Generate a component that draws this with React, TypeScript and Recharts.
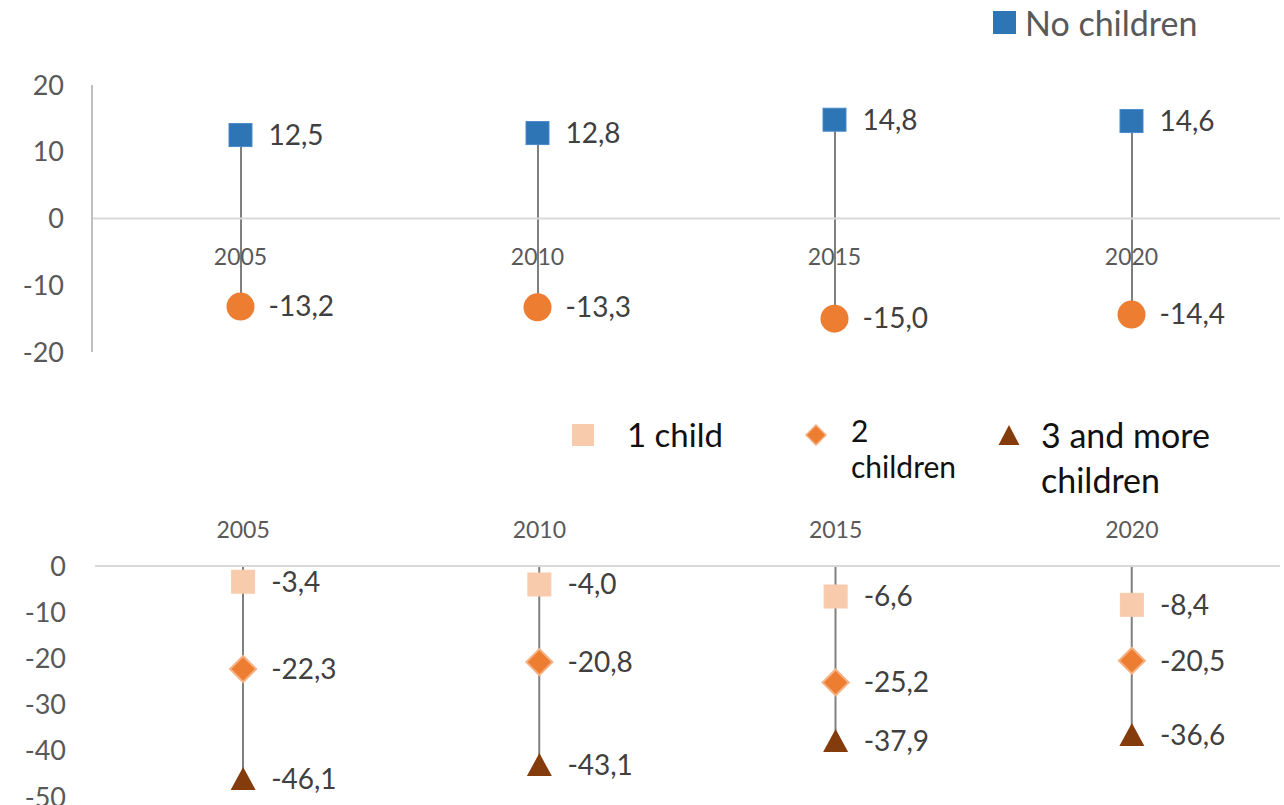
import React from 'react';
import {
  ComposedChart,
  Bar,
  Line,
  XAxis,
  YAxis,
  ReferenceLine,
  Legend,
  LabelList,
} from 'recharts';

const FONT = 'Lato, "Open Sans", sans-serif';

const years = ['2005', '2010', '2015', '2020'];
const noChildren = [12.5, 12.8, 14.8, 14.6];
const withChildren = [-13.2, -13.3, -15.0, -14.4];
const oneChild = [-3.4, -4.0, -6.6, -8.4];
const twoChildren = [-22.3, -20.8, -25.2, -20.5];
const threeOrMore = [-46.1, -43.1, -37.9, -36.6];

const topTicks = [-20, -10, 0, 10, 20];
const bottomTicks = [-50, -40, -30, -20, -10, 0];

const topData = years.map((year, i) => ({
  year,
  none: noChildren[i],
  some: withChildren[i],
  stem: [withChildren[i], noChildren[i]],
}));

const bottomData = years.map((year, i) => ({
  year,
  one: oneChild[i],
  two: twoChildren[i],
  three: threeOrMore[i],
  stem: [threeOrMore[i], 0],
}));

const BLUE = '#2E75B6';
const ORANGE = '#ED7D31';
const PEACH = '#F8CBAD';
const BROWN = '#843C0C';
const STEM = '#7F7F7F';
const TICK = '#595959';

const fmt = (v: any) => Number(v).toFixed(1).replace('.', ',');

const squareDot = (fill: string, stroke: string) => (p: any) => (
  <rect
    key={`sq-${p.index}`}
    x={p.cx - 11.5}
    y={p.cy - 11.5}
    width={23}
    height={23}
    fill={fill}
    stroke={stroke}
    strokeWidth={1}
  />
);

const circleDot = (p: any) => (
  <circle key={`ci-${p.index}`} cx={p.cx} cy={p.cy} r={14} fill={ORANGE} />
);

const diamondDot = (p: any) => (
  <polygon
    key={`di-${p.index}`}
    points={`${p.cx},${p.cy - 13} ${p.cx + 13},${p.cy} ${p.cx},${p.cy + 13} ${p.cx - 13},${p.cy}`}
    fill={ORANGE}
    stroke="#F4B183"
    strokeWidth={2}
  />
);

const triangleDot = (p: any) => (
  <polygon
    key={`tr-${p.index}`}
    points={`${p.cx},${p.cy - 12} ${p.cx + 12.5},${p.cy + 11} ${p.cx - 12.5},${p.cy + 11}`}
    fill={BROWN}
  />
);

// year labels of the upper panel sit just under the zero line
const YearTick = (p: any) => (
  <text
    x={p.x}
    y={p.y}
    dy={-89}
    textAnchor="middle"
    fill={TICK}
    fontSize={23}
    fontFamily={FONT}
  >
    {p.payload.value}
  </text>
);

// value written to the right of each marker
const ValueLabel = (p: any) => {
  const x = p.x ?? p.viewBox?.x;
  const y = p.y ?? p.viewBox?.y;
  return (
    <text
      x={x + 28}
      y={y}
      dy="0.35em"
      textAnchor="start"
      fill="#404040"
      fontSize={28}
      fontFamily={FONT}
    >
      {fmt(p.value)}
    </text>
  );
};

const legendIcons: Record<string, React.ReactNode> = {
  none: <div style={{ width: 23, height: 23, background: BLUE }} />,
  one: <div style={{ width: 22, height: 22, background: PEACH }} />,
  two: (
    <svg width={22} height={22}>
      <polygon points="11,1 21,11 11,21 1,11" fill={ORANGE} stroke="#F4B183" strokeWidth={1.5} />
    </svg>
  ),
  three: (
    <svg width={22} height={22}>
      <polygon points="11,1 21.5,21 0.5,21" fill={BROWN} />
    </svg>
  ),
};

const TopLegend = (props: any) => (
  <div style={{ display: 'flex', alignItems: 'center', height: 45, fontFamily: FONT }}>
    {(props.payload || [])
      .filter((e: any) => e.dataKey === 'none')
      .map((e: any) => (
        <div key={e.dataKey} style={{ display: 'flex', alignItems: 'center', whiteSpace: 'nowrap' }}>
          {legendIcons[e.dataKey]}
          <span style={{ marginLeft: 9, fontSize: 34, color: TICK }}>{e.value}</span>
        </div>
      ))}
  </div>
);

const itemLayout: Record<string, { width: number; gap: number; font: number; lh: number; text: string[] }> = {
  one: { width: 233, gap: 33, font: 33, lh: 45, text: ['1 child'] },
  two: { width: 193, gap: 24, font: 30, lh: 36, text: ['2', 'children'] },
  three: { width: 260, gap: 21, font: 34, lh: 45, text: ['3 and more', 'children'] },
};

const BottomLegend = (props: any) => (
  <div style={{ display: 'flex', alignItems: 'flex-start', height: 100, fontFamily: FONT }}>
    {(props.payload || []).map((e: any) => {
      const l = itemLayout[e.dataKey];
      if (!l) return null;
      return (
        <div key={e.dataKey} style={{ display: 'flex', alignItems: 'flex-start', width: l.width }}>
          <div style={{ marginTop: 12 }}>{legendIcons[e.dataKey]}</div>
          <div
            style={{
              marginLeft: l.gap,
              fontSize: l.font,
              lineHeight: `${l.lh}px`,
              color: '#111',
              whiteSpace: 'nowrap',
            }}
          >
            {l.text.map((t) => (
              <div key={t}>{t}</div>
            ))}
          </div>
        </div>
      );
    })}
  </div>
);

export default function App() {
  return (
    <div style={{ position: 'absolute', left: 0, top: 0, width: 1284, height: 805, background: '#fff', fontFamily: FONT }}>
      <div style={{ position: 'absolute', left: 0, top: 0 }}>
        <ComposedChart width={1284} height={400} data={topData} margin={{ top: 40, right: 4, bottom: 18, left: 32 }}>
          <XAxis dataKey="year" axisLine={false} tickLine={false} tickSize={0} height={30} tick={<YearTick />} interval={0} />
          <YAxis
            domain={[-20, 20]}
            ticks={topTicks}
            interval={0}
            width={60}
            tickLine={false}
            tickSize={0}
            tickMargin={28}
            axisLine={{ stroke: '#BFBFBF', strokeWidth: 2 }}
            tick={{ fill: TICK, fontSize: 27, fontFamily: FONT }}
          />
          <ReferenceLine y={0} stroke="#D9D9D9" strokeWidth={2} />
          <Bar dataKey="stem" barSize={2} fill={STEM} legendType="none" isAnimationActive={false} />
          <Line
            dataKey="none"
            name="No children"
            stroke="none"
            dot={squareDot(BLUE, '#4A8AC9')}
            activeDot={false}
            isAnimationActive={false}
          >
            <LabelList dataKey="none" content={<ValueLabel />} />
          </Line>
          <Line
            dataKey="some"
            name="With children"
            stroke="none"
            dot={circleDot}
            activeDot={false}
            legendType="none"
            isAnimationActive={false}
          >
            <LabelList dataKey="some" content={<ValueLabel />} />
          </Line>
          <Legend
            verticalAlign="top"
            align="right"
            content={<TopLegend />}
            wrapperStyle={{ top: 0, left: 993, width: 291 }}
          />
        </ComposedChart>
      </div>
      <div style={{ position: 'absolute', left: 0, top: 400 }}>
        <ComposedChart width={1284} height={405} data={bottomData} margin={{ top: 26, right: 4, bottom: 8, left: 35 }}>
          <XAxis
            dataKey="year"
            orientation="top"
            axisLine={false}
            tickLine={false}
            tickSize={0}
            tickMargin={28}
            height={40}
            interval={0}
            tick={{ fill: TICK, fontSize: 23, fontFamily: FONT }}
          />
          <YAxis
            domain={[-50, 0]}
            ticks={bottomTicks}
            interval={0}
            width={60}
            tickLine={false}
            tickSize={0}
            tickMargin={29}
            axisLine={false}
            tick={{ fill: TICK, fontSize: 27, fontFamily: FONT }}
          />
          <ReferenceLine y={0} stroke="#D9D9D9" strokeWidth={2} />
          <Bar dataKey="stem" barSize={2} fill={STEM} legendType="none" isAnimationActive={false} />
          <Line dataKey="one" name="1 child" stroke="none" dot={squareDot(PEACH, PEACH)} activeDot={false} isAnimationActive={false}>
            <LabelList dataKey="one" content={<ValueLabel />} />
          </Line>
          <Line dataKey="two" name="2 children" stroke="none" dot={diamondDot} activeDot={false} isAnimationActive={false}>
            <LabelList dataKey="two" content={<ValueLabel />} />
          </Line>
          <Line dataKey="three" name="3 and more children" stroke="none" dot={triangleDot} activeDot={false} isAnimationActive={false}>
            <LabelList dataKey="three" content={<ValueLabel />} />
          </Line>
          <Legend
            verticalAlign="top"
            align="left"
            content={<BottomLegend />}
            wrapperStyle={{ top: 12, left: 572, width: 712 }}
          />
        </ComposedChart>
      </div>
    </div>
  );
}
